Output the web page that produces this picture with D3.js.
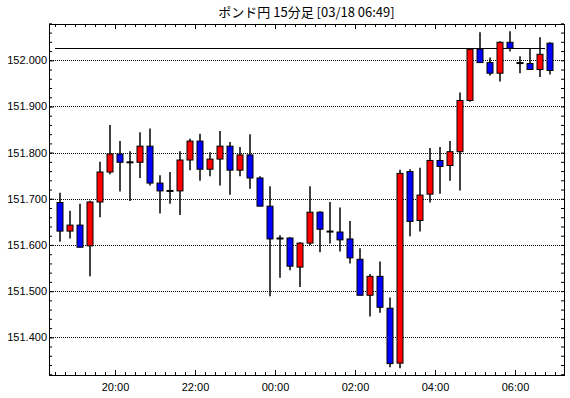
<!DOCTYPE html>
<html lang="ja">
<head>
<meta charset="UTF-8">
<title>ポンド円 15分足</title>
<script src="https://d3js.org/d3.v7.min.js"></script>
<style>
  body { margin: 0; background: #fff; }
  svg { display: block; }
  text { font-family: "Liberation Sans", Arial, sans-serif; font-size: 11px; fill: #000; }
</style>
</head>
<body>
<div id="chart"></div>
<script>
// 15分足 18:30 -> 06:45 (50本)
const firstSlot = new Date(2024, 2, 17, 18, 30);
const opens  = [151.692,151.630,151.643,151.598,151.693,151.758,151.797,151.779,151.779,151.814,
                151.734,151.717,151.717,151.784,151.825,151.764,151.786,151.814,151.762,151.795,
                151.745,151.684,151.614,151.615,151.552,151.604,151.671,151.629,151.628,151.613,
                151.569,151.491,151.532,151.463,151.344,151.759,151.653,151.710,151.783,151.772,
                151.802,151.913,152.024,151.995,151.972,152.039,151.994,151.993,151.980,152.037];
const highs  = [151.713,151.674,151.689,151.696,151.780,151.860,151.825,151.803,151.844,151.852,
                151.751,151.758,151.803,151.830,151.841,151.801,151.847,151.823,151.812,151.840,
                151.749,151.727,151.621,151.617,151.606,151.727,151.673,151.693,151.681,151.652,
                151.593,151.537,151.564,151.486,151.763,151.764,151.767,151.810,151.812,151.825,
                151.930,152.024,152.061,152.006,152.041,152.063,152.009,152.026,152.050,152.039];
const lows   = [151.607,151.614,151.595,151.532,151.660,151.753,151.716,151.695,151.745,151.729,
                151.668,151.689,151.665,151.762,151.739,151.749,151.729,151.709,151.749,151.722,
                151.684,151.489,151.529,151.545,151.509,151.600,151.584,151.603,151.586,151.560,
                151.491,151.445,151.453,151.335,151.333,151.619,151.629,151.692,151.711,151.739,
                151.718,151.910,151.995,151.967,151.954,152.019,151.972,151.980,151.964,151.969];
const closes = [151.630,151.643,151.595,151.693,151.758,151.797,151.779,151.779,151.814,151.734,
                151.717,151.717,151.784,151.825,151.764,151.786,151.814,151.762,151.795,151.745,
                151.684,151.613,151.614,151.554,151.604,151.671,151.634,151.629,151.611,151.572,
                151.491,151.532,151.465,151.343,151.755,151.651,151.708,151.783,151.770,151.802,
                151.913,152.024,151.995,151.972,152.039,152.026,151.994,151.980,152.013,151.978];
const priceLine = 152.026;
const yLabels = [151.4, 151.5, 151.6, 151.7, 151.8, 151.9, 152.0];
const title = "ポンド円 15分足 [03/18 06:49]";

const W = 570, H = 398;
const m = { left: 49, right: 564, top: 24, bottom: 375 };

const candles = opens.map((o, i) => ({
  t: d3.timeMinute.offset(firstSlot, 15 * i),
  o: o, h: highs[i], l: lows[i], c: closes[i]
}));

const x = d3.scaleTime()
  .domain([new Date(2024, 2, 17, 18, 21), new Date(2024, 2, 18, 7, 13, 30)])
  .range([m.left, m.right]);
const y = d3.scaleLinear()
  .domain([151.3183, 152.0786])
  .range([m.bottom, m.top]);

const svg = d3.select("#chart").append("svg")
  .attr("width", W).attr("height", H);

svg.append("text")
  .attr("x", (m.left + m.right) / 2).attr("y", 17)
  .attr("text-anchor", "middle")
  .style("font-family", "'Noto Sans CJK JP', sans-serif")
  .style("font-size", "13px")
  .text(title);

// grid
svg.append("g").selectAll("line").data(yLabels).join("line")
  .attr("x1", m.left).attr("x2", m.right)
  .attr("y1", d => Math.round(y(d)) + 0.5).attr("y2", d => Math.round(y(d)) + 0.5)
  .attr("stroke", "#000").attr("stroke-dasharray", "1,1");

// axes
const minorX = d3.timeMinute.every(15).range(...x.domain());
const majorX = d3.timeHour.every(2).range(...x.domain());
const minorY = d3.range(151.32, 152.08, 0.02);
const fmtT = d3.timeFormat("%H:%M");

function clean(g) { g.select(".domain").remove(); g.selectAll(".tick line").attr("stroke", "#000"); }

svg.append("g").attr("transform", `translate(0,${m.bottom})`)
  .call(d3.axisBottom(x).tickValues(minorX).tickSize(-3).tickFormat("")).call(clean);
svg.append("g").attr("transform", `translate(0,${m.bottom})`)
  .call(d3.axisBottom(x).tickValues(majorX).tickSize(-5).tickPadding(8).tickFormat(fmtT))
  .call(clean).selectAll("text").style("font-size", "11px");
svg.append("g").attr("transform", `translate(0,${m.top})`)
  .call(d3.axisTop(x).tickValues(minorX).tickSize(-3).tickFormat("")).call(clean);
svg.append("g").attr("transform", `translate(0,${m.top})`)
  .call(d3.axisTop(x).tickValues(majorX).tickSize(-5).tickFormat("")).call(clean);

svg.append("g").attr("transform", `translate(${m.left},0)`)
  .call(d3.axisLeft(y).tickValues(minorY).tickSize(-3).tickFormat("")).call(clean);
svg.append("g").attr("transform", `translate(${m.left},0)`)
  .call(d3.axisLeft(y).tickValues(yLabels).tickSize(-5).tickPadding(2).tickFormat(d3.format(".3f")))
  .call(clean).selectAll("text").style("font-size", "11px");
svg.append("g").attr("transform", `translate(${m.right},0)`)
  .call(d3.axisRight(y).tickValues(minorY).tickSize(-3).tickFormat("")).call(clean);

// current price line
svg.append("line")
  .attr("x1", x(candles[0].t)).attr("x2", x(candles[candles.length - 1].t))
  .attr("y1", Math.round(y(priceLine)) + 0.5).attr("y2", Math.round(y(priceLine)) + 0.5)
  .attr("stroke", "#000");

// candles
const bw = 6;
const cx = d => Math.round(x(new Date(+d.t + 7.5 * 60000)));
const cg = svg.append("g").selectAll("g").data(candles).join("g");

cg.append("line")
  .attr("x1", d => cx(d)).attr("x2", d => cx(d))
  .attr("y1", d => y(d.h)).attr("y2", d => y(d.l))
  .attr("stroke", "#000").attr("stroke-width", 1.5);

cg.filter(d => d.o !== d.c).append("rect")
  .attr("x", d => cx(d) - bw / 2)
  .attr("y", d => y(Math.max(d.o, d.c)))
  .attr("width", bw)
  .attr("height", d => Math.abs(y(d.o) - y(d.c)))
  .attr("fill", d => d.c > d.o ? "#ff0000" : "#0000ff")
  .attr("stroke", "#000").attr("stroke-width", 1);

cg.filter(d => d.o === d.c).append("line")
  .attr("x1", d => cx(d) - bw / 2 - 0.5).attr("x2", d => cx(d) + bw / 2 + 0.5)
  .attr("y1", d => y(d.o)).attr("y2", d => y(d.o))
  .attr("stroke", "#000").attr("stroke-width", 2);

// frame
svg.append("rect")
  .attr("x", m.left + 0.5).attr("y", m.top + 0.5)
  .attr("width", m.right - m.left).attr("height", m.bottom - m.top)
  .attr("fill", "none").attr("stroke", "#000");
</script>
</body>
</html>
